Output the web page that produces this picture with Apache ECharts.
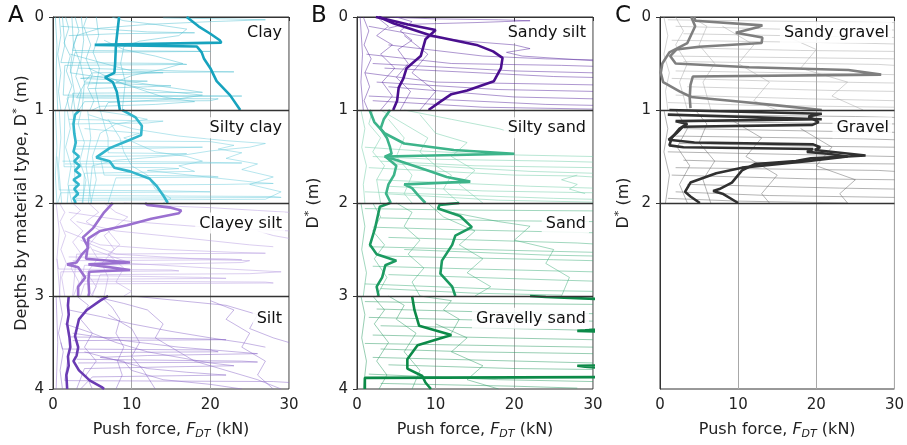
<!DOCTYPE html>
<html><head><meta charset="utf-8">
<script src="https://cdn.jsdelivr.net/npm/echarts@6/dist/echarts.min.js"></script>
<style>html,body{margin:0;padding:0;background:#fff}#c{width:907px;height:445px}</style>
</head><body><div id="c"></div>
<script>
// ---- data: each line is a flat list x(kN), relative depth within material segment (0..1) ----
const xTicks = [0, 10, 20, 30];
const yTicksAB = [0, 1, 2, 3, 4];
const yTicksC = [0, 1, 2];
const panelLetters = ['A', 'B', 'C'];
const materials = ['Clay','Silty clay','Clayey silt','Silt','Sandy silt','Silty sand','Sand','Gravelly sand','Sandy gravel','Gravel'];

// thick (summary) lines
const clayThickA = [8.4,0, 8.2,0.15, 8.0,0.3, 7.9,0.5, 7.8,0.6, 6.6,0.65, 7.6,0.7, 8.1,0.8, 8.3,0.9, 8.5,1];
const clayThickB = [17.0,0, 18.5,0.1, 20,0.18, 21.2,0.25, 21.4,0.276, 5.3,0.30, 18.3,0.318, 18.9,0.38, 19.2,0.45, 20,0.55, 20.8,0.69, 22.5,0.84, 23.8,1];
const siltyClayThickA = [3.4,0, 2.8,0.05, 2.6,0.15, 2.7,0.25, 2.9,0.35, 2.6,0.45, 3.3,0.5, 2.7,0.55, 3.4,0.6, 2.8,0.65, 3.5,0.7, 2.6,0.75, 3.3,0.8, 2.7,0.85, 3.2,0.9, 2.6,0.95, 2.9,1];
const siltyClayThickB = [8.8,0, 10.5,0.08, 11.3,0.17, 11.2,0.27, 9.5,0.33, 7.2,0.41, 5.5,0.51, 7.2,0.55, 7.8,0.62, 9.8,0.66, 12.3,0.74, 13.2,0.82, 14.1,0.93, 14.6,1];
const clayeySiltThickA = [11.7,0, 12.0,0.02, 15.0,0.05, 16.3,0.08, 16.0,0.11, 12.5,0.17, 9.4,0.24, 6.0,0.30, 4.5,0.38, 4.4,0.48, 4.2,0.6, 9.8,0.64, 4.5,0.66, 9.8,0.72, 4.6,0.74, 4.5,0.83, 4.6,0.97, 4.5,1];
const clayeySiltThickB = [7.6,0, 6.5,0.1, 5.1,0.27, 3.8,0.37, 4.5,0.48, 3.7,0.55, 3.0,0.64, 1.8,0.66, 3.2,0.69, 4.1,0.8, 3.2,0.9, 3.2,1];
const siltThickA = [2.0,0, 1.9,0.1, 2.0,0.2, 1.8,0.3, 2.1,0.45, 2.2,0.55, 1.9,0.65, 2.0,0.75, 1.7,0.85, 1.8,1];
const siltThickB = [7.0,0, 6.0,0.05, 4.3,0.15, 3.3,0.25, 2.8,0.43, 3.2,0.55, 3.0,0.64, 2.6,0.7, 3.3,0.8, 4.7,0.91, 6.2,0.98, 6.5,1];
const sandySiltThickA = [2.4,0, 4.0,0.03, 6.5,0.08, 10.0,0.14, 8.7,0.24, 8.1,0.42, 6.3,0.55, 5.9,0.66, 5.3,0.76, 5.1,0.9, 4.6,1];
const sandySiltThickB = [2.8,0, 4.7,0.07, 9.4,0.2, 15.2,0.3, 17.3,0.37, 18.5,0.44, 18.3,0.55, 17.4,0.69, 14.0,0.79, 12.0,0.83, 10.6,0.91, 9.1,1];
const siltySandThickA = [4.2,0, 3.4,0.1, 3.0,0.2, 3.8,0.3, 4.2,0.4, 4.4,0.47, 3.6,0.5, 5.0,0.6, 4.7,0.7, 4.0,0.8, 3.7,0.9, 4.3,1];
const siltySandThickB = [1.6,0, 2.2,0.13, 3.5,0.25, 6.0,0.36, 12.3,0.43, 20.0,0.47, 3.5,0.5, 5.1,0.54, 9.0,0.65, 11.4,0.72, 14.4,0.77, 6.0,0.8, 7.0,0.84, 7.7,0.91, 8.7,1];
const sandThickA = [4.2,0, 2.9,0.04, 2.3,0.27, 1.65,0.45, 2.5,0.55, 5.0,0.62, 3.6,0.67, 3.2,0.8, 2.5,0.9, 2.75,1];
const sandThickB = [13.0,0, 10.5,0.02, 10.3,0.06, 13.1,0.14, 14.6,0.26, 12.5,0.35, 12.1,0.45, 10.8,0.62, 10.6,0.76, 12.1,0.9, 12.5,1];
const gravellySandThickA = [7.0,0, 7.3,0.15, 7.9,0.32, 12.0,0.42, 7.7,0.53, 6.4,0.68, 6.4,0.78, 8.3,0.86, 8.7,0.93, 9.4,1];
const gravellySandThickB = [22,0, 24,0.01, 36,0.05, 40,0.3, 29,0.37, 28,0.375, 36,0.4, 40,0.6, 36,0.74, 28,0.75, 29,0.76, 36,0.8, 40,0.87, 1.0,0.88, 1.0,1];
const sandyGravelThickA = [4.4,0, 4.5,0.04, 13.1,0.09, 12.5,0.11, 9.7,0.17, 13.1,0.22, 13.0,0.28, 5,0.32, 2.1,0.35, 1.3,0.42, 2.0,0.5, 11.4,0.54, 24.1,0.57, 28.3,0.62, 4.2,0.64, 3.9,0.73, 3.8,0.87, 3.9,0.98];
const sandyGravelThickB = [4.0,0, 4.5,0.1, 3.5,0.28, 1.2,0.38, 0.3,0.5, 0.1,0.6, 0.4,0.7, 2.5,0.8, 4.0,0.86, 9,0.9, 15,0.95, 20.7,1.0];
const gravelThickA = [1.2,0, 1.0,0.02, 20.7,0.04, 19.0,0.07, 20.3,0.13, 19.5,0.16, 2.9,0.18, 2.1,0.25, 1.1,0.32, 4.4,0.35, 19.6,0.37, 20.5,0.40, 19.8,0.43, 26.3,0.49, 19.3,0.52, 17.4,0.55, 12.2,0.58, 10.5,0.65, 9.2,0.78, 7.6,0.85, 6.8,0.87, 8.0,0.9, 10.0,1];
const gravelThickB = [1.0,0.05, 20.7,0.1, 2.0,0.12, 3.5,0.15, 2.5,0.2, 1.5,0.3, 1.2,0.38, 3,0.4, 19.6,0.42, 18.8,0.45, 21.5,0.47, 24,0.5, 18.8,0.55, 10.5,0.62, 7.2,0.68, 3.9,0.78, 3.2,0.88, 3.9,0.93, 5.1,1];

// thin (individual test) lines
const clayThin = [
 [0.3,0, 0.5,0.3, 0.4,0.6, 0.6,1],
 [0.8,0, 1.0,0.2, 0.6,0.4, 1.0,0.6, 0.7,0.8, 1.0,1],
 [1.6,0, 2.0,0.12, 1.4,0.28, 2.2,0.42, 1.7,0.58, 2.4,0.74, 1.8,0.88, 2.1,1],
 [2.4,0, 2.6,0.3, 2.2,0.55, 2.7,0.8, 2.3,1],
 [2.8,0, 3.3,0.15, 2.6,0.3, 3.4,0.48, 2.9,0.64, 3.6,0.8, 3.1,1],
 [4.3,0, 3.9,0.1, 4.8,0.3, 4.2,0.45, 5.0,0.62, 4.4,0.76, 5.2,0.9, 4.7,1],
 [5.5,0, 5.8,0.2, 5.1,0.38, 5.9,0.55, 5.4,0.78, 6.0,1],
 [3.6,0, 3.9,0.25, 3.5,0.5, 4.0,0.7, 3.7,1],
 [7.5,0, 9,0.04, 13,0.08, 17,0.13, 16,0.2, 11,0.26, 9,0.32, 8.6,0.5, 9.2,0.7, 8.8,1],
 [14,0.01, 22,0.02, 27,0.03, 20,0.05, 12,0.08, 6,0.12, 3,0.2, 2.5,0.36, 20,0.37, 2.8,0.38, 2.2,0.6, 19,0.81, 2.5,0.82, 2.8,1],
 [1.2,0, 1.5,0.3, 1.0,0.49, 16,0.5, 17,0.51, 1.5,0.52, 1.3,0.84, 24,0.85, 2,0.86, 1.5,1],
 [6.5,0.25, 9,0.35, 13,0.42, 16.5,0.5, 14,0.56, 10,0.63, 8,0.7, 12,0.78, 19,0.84, 16,0.88, 7,0.92, 6.5,1],
 [2.2,0.4, 10,0.58, 14,0.6, 8,0.62, 3.5,0.66, 12,0.69, 4,0.72, 3,0.87, 21,0.88, 20,0.9, 4,0.91, 3.3,1],
 [4.5,0.55, 9,0.72, 14,0.86, 18,0.91, 13,0.94, 6,0.96, 5,1],
 [1.0,0.1, 12,0.16, 18,0.17, 8,0.18, 2,0.2],
 [3.2,0.55, 16,0.58, 23,0.59, 5,0.6, 4,0.7, 15,0.74, 12,0.75, 4.5,0.77]
];
const siltyClayThin = [
 [0.3,0, 0.5,0.4, 0.3,0.7, 0.5,1],
 [0.8,0, 1,0.3, 0.7,0.6, 1.1,1],
 [1.8,0, 2.2,0.2, 1.6,0.4, 2.3,0.6, 1.9,0.8, 2.4,1],
 [3.6,0, 3.2,0.15, 4.0,0.35, 3.4,0.55, 4.2,0.75, 3.7,1],
 [4.4,0, 4.8,0.3, 4.2,0.6, 4.9,1],
 [5,0, 9,0.05, 12,0.1, 8,0.15, 6,0.25, 5,0.5, 5.5,0.75, 4.8,1],
 [4.5,0.05, 10,0.2, 16,0.28, 22,0.33, 27,0.36, 25,0.4, 20,0.44, 17,0.48, 8,0.54, 5,0.6, 4.5,1],
 [2.5,0, 2.8,0.25, 2.7,0.39, 19,0.4, 13,0.41, 2.6,0.42, 2.9,0.92, 28,0.93, 29,0.94, 3,0.95, 2.7,1],
 [6,0, 7,0.3, 7,0.46, 17,0.47, 14,0.49, 6,0.5, 6.5,0.7, 20,0.71, 21,0.72, 8,0.73, 7,1],
 [1.5,0, 1.4,0.61, 14,0.62, 16,0.63, 12,0.65, 26,0.78, 28,0.79, 22,0.8, 2,0.81, 1.8,1],
 [7,0.1, 8.5,0.3, 9,0.45, 10,0.6, 12,0.7, 13,0.85, 15,0.95, 14,1],
 [3,0.33, 20,0.34, 23,0.38, 21,0.42, 24,0.46, 22,0.52, 26,0.58, 24,0.64, 28,0.72, 25,0.8, 29,0.88, 27,0.96, 3,0.97, 2.5,1],
 [4,0.2, 11,0.25, 9,0.3, 13,0.45, 17,0.5, 19,0.55, 16,0.6, 18,0.66, 4,0.68, 3.8,1],
 [0.5,0.5, 0.8,0.86, 15,0.87, 20,0.88, 1,0.89, 0.6,1],
 [2,0.1, 14,0.12, 12,0.14, 2.2,0.15],
 [1.2,0.55, 18,0.56, 24,0.57, 1.5,0.58]
];
const clayeySiltThin = [
 [0.4,0, 0.8,0.3, 0.5,0.6, 0.9,1],
 [0.8,0, 1.5,0.1, 0.9,0.2, 1.6,0.35, 1.0,0.5, 1.7,0.65, 1.1,0.8, 1.5,1],
 [2.5,0, 3.5,0.08, 2.2,0.18, 3.8,0.3, 2.5,0.42, 3.6,0.55, 2.3,0.7, 3.3,0.85, 2.6,1],
 [4.5,0, 5.8,0.1, 4.2,0.2, 6,0.3, 4.6,0.45, 5.7,0.6, 4.3,0.75, 5.5,0.9, 4.8,1],
 [6.5,0, 8,0.1, 9.5,0.15, 8,0.25, 6.5,0.35, 7.8,0.5, 6.2,0.65, 7,0.8, 6.5,1],
 [9,0, 14,0.03, 20,0.05, 26,0.08, 30,0.1],
 [2,0.1, 10,0.2, 18,0.25, 25,0.28, 30,0.3],
 [3,0.2, 8,0.3, 15,0.36, 25,0.45, 28,0.47],
 [1.5,0.3, 6,0.45, 14,0.5, 23,0.53, 27,0.54, 3,0.55, 2.5,1],
 [3.5,0.4, 8,0.55, 18,0.6, 25,0.62, 24,0.64, 12,0.66, 4,0.67, 3.6,0.84, 27,0.85, 28,0.86, 4,0.87, 3.5,1],
 [5,0.5, 10,0.65, 20,0.7, 29,0.74, 25,0.76, 6,0.77, 5,1],
 [0.5,0.6, 0.7,0.71, 15,0.72, 16,0.73, 1,0.74, 0.8,1],
 [7,0.3, 8.5,0.45, 7,0.55, 9,0.7, 8,0.85, 10,0.95, 9,1],
 [26,0.3, 28,0.35, 30,0.38],
 [2,0.58, 22,0.6, 24,0.61, 2.5,0.62],
 [4,0.78, 19,0.8, 22,0.81, 4.5,0.82]
];
const siltThin = [
 [0.4,0, 0.6,0.5, 0.4,1],
 [0.8,0, 1.2,0.2, 0.7,0.4, 1.3,0.6, 0.9,0.8, 1.2,1],
 [3,0, 4.5,0.1, 3.5,0.25, 5,0.4, 4,0.55, 5.5,0.7, 4.2,0.85, 5,1],
 [6,0, 7.5,0.12, 8.5,0.25, 8,0.4, 9,0.55, 8.2,0.7, 8.8,0.85, 8,1],
 [5,0, 9,0.08, 12,0.15, 14,0.3, 13,0.45, 16,0.6, 18,0.7, 22,0.8, 26,0.9, 29,1],
 [10,0, 16,0.05, 22,0.1, 26,0.2, 25,0.35, 28,0.45, 30,0.5],
 [2,0.15, 6,0.22, 10,0.3, 15,0.38, 20,0.45, 24,0.5, 27,0.55],
 [1.5,0.3, 5,0.4, 8,0.5, 12,0.6, 20,0.72, 23,0.75, 16,0.76, 4,0.78, 3,1],
 [2.5,0.4, 9,0.48, 16,0.55, 26,0.62, 12,0.64, 6,0.66, 9,0.7, 10,0.8, 14,0.9, 20,0.95, 24,1],
 [1,0.5, 1.2,0.57, 20,0.58, 21,0.6, 2,0.61, 1.5,0.91, 28,0.92, 30,0.93],
 [4,0.6, 12,0.78, 17,0.82, 22,0.85, 5,0.87, 3.5,1],
 [7,0.2, 10,0.35, 11,0.5, 10,0.65, 11.5,0.8, 13,1],
 [20,0.05, 23,0.15, 22,0.25, 25,0.4, 24,0.55, 27,0.7, 26,0.85, 28,1],
 [2.2,0.44, 18,0.46, 22,0.47, 2.5,0.48],
 [3,0.68, 24,0.7, 26,0.71, 3.2,0.72]
];
const sandySiltThin = [
 [0.4,0, 0.7,0.4, 0.5,0.7, 0.8,1],
 [0.8,0, 1.5,0.15, 0.9,0.3, 1.8,0.45, 1.0,0.6, 1.6,0.75, 0.9,0.9, 1.4,1],
 [2.5,0, 4,0.1, 2.5,0.2, 4.5,0.3, 3,0.4, 4.8,0.55, 3.2,0.7, 4.5,0.85, 3,1],
 [5,0, 7,0.05, 5.5,0.15, 7,0.25, 5.2,0.35, 6.5,0.5, 5,0.65, 6.8,0.8, 5.5,1],
 [3,0, 10,0.02, 18,0.03, 22,0.04, 15,0.06, 6,0.08, 4,0.12],
 [1.5,0.1, 8,0.2, 14,0.26, 20,0.3, 22,0.34, 19,0.38, 21,0.42, 28,0.46, 30,0.47],
 [4,0.3, 10,0.36, 16,0.42, 24,0.45, 30,0.46],
 [1.2,0.4, 12,0.5, 26,0.52, 30,0.53],
 [2,0.5, 20,0.58, 30,0.6],
 [3.5,0.55, 25,0.64, 30,0.65],
 [1,0.6, 10,0.7, 30,0.73],
 [2.5,0.7, 18,0.78, 30,0.8],
 [4,0.75, 20,0.86, 30,0.88],
 [1.5,0.85, 24,0.94, 30,0.95],
 [6,0.2, 9,0.4, 7,0.6, 10,0.8, 8,1],
 [2,0.9, 16,0.97, 30,0.99]
];
const siltySandThin = [
 [0.5,0, 1,0.2, 0.6,0.4, 1.2,0.6, 0.8,0.8, 1,1],
 [2,0, 1.5,0.15, 3,0.3, 2,0.45, 3.5,0.6, 2.5,0.75, 3,1],
 [3,0, 5,0.1, 7,0.2, 9,0.3, 8,0.45, 10,0.6, 12,0.7, 11,0.85, 13,1],
 [6,0, 9,0.05, 12,0.1, 15,0.15, 18,0.2, 20,0.25],
 [4,0.1, 6,0.3, 5,0.5, 7,0.7, 6,0.9, 7,1],
 [1,0.4, 8,0.44, 18,0.48, 30,0.5],
 [2,0.5, 10,0.53, 25,0.55, 30,0.56],
 [3,0.55, 15,0.6, 30,0.62],
 [1.5,0.62, 20,0.7, 28,0.71, 30,0.72],
 [2.5,0.75, 22,0.82, 30,0.84],
 [4,0.82, 16,0.87, 30,0.89],
 [1,0.88, 25,0.95, 30,0.96],
 [8,0.05, 10,0.25, 14,0.35, 12,0.5, 15,0.65, 13,0.8, 16,1],
 [28,0.7, 26,0.75, 28,0.8, 27,0.85, 29,0.9],
 [5,0.58, 22,0.66, 30,0.68],
 [3.5,0.9, 18,0.97, 30,0.99]
];
const sandThin = [
 [0.5,0, 1,0.25, 0.6,0.5, 1.2,0.75, 0.8,1],
 [2,0, 3,0.15, 2,0.3, 3.5,0.45, 2.2,0.6, 3.8,0.8, 2.5,1],
 [5,0, 7,0.1, 6,0.25, 8,0.4, 6.5,0.55, 8.5,0.7, 7,0.85, 8,1],
 [9,0, 11,0.15, 15,0.3, 13,0.45, 16,0.6, 14,0.75, 17,0.9, 15,1],
 [1,0.06, 12,0.075, 30,0.085],
 [3,0.16, 18,0.19, 30,0.2],
 [2,0.26, 14,0.29, 25,0.31, 30,0.32],
 [4,0.37, 20,0.41, 28,0.43, 30,0.44],
 [1.5,0.47, 20,0.51, 30,0.53],
 [3,0.57, 25,0.61, 30,0.62],
 [2,0.68, 15,0.71, 30,0.74],
 [4,0.77, 26,0.83, 30,0.84],
 [1,0.87, 22,0.94, 30,0.95],
 [12,0.1, 18,0.2, 22,0.25, 20,0.4, 25,0.5, 24,0.65, 27,0.8, 26,1],
 [6,0.5, 24,0.56, 30,0.57],
 [3,0.92, 15,0.97, 26,0.99]
];
const gravellySandThin = [
 [0.5,0, 1,0.2, 0.6,0.45, 1.2,0.7, 0.8,1],
 [2,0, 3.5,0.15, 2.2,0.3, 4,0.5, 2.5,0.7, 3.8,0.85, 2.8,1],
 [4,0, 6,0.1, 5,0.25, 7.5,0.4, 6,0.6, 8,0.8, 7,1],
 [8,0, 12,0.05, 11,0.15, 13,0.25, 12,0.4],
 [1,0.06, 15,0.08, 30,0.09],
 [2.5,0.14, 20,0.18, 30,0.19],
 [1.5,0.23, 16,0.26, 30,0.27],
 [3,0.32, 25,0.36, 30,0.37],
 [2,0.42, 18,0.45, 30,0.47],
 [1,0.51, 22,0.54, 30,0.55],
 [3,0.57, 14,0.6, 30,0.62],
 [2,0.66, 25,0.71, 30,0.72],
 [4,0.74, 20,0.78, 30,0.79],
 [1.5,0.84, 18,0.9, 30,0.92],
 [10,0.3, 14,0.45, 12,0.6, 16,0.75, 14,0.9, 18,1],
 [3,0.94, 20,0.97, 28,0.99]
];
const sandyGravelThin = [
 [0.5,0, 1,0.2, 0.5,0.4, 1.2,0.6, 0.7,0.8, 1,1],
 [2,0, 3,0.15, 2,0.3, 3.5,0.5, 2.5,0.7, 3.5,1],
 [4,0, 6,0.1, 5,0.3, 7,0.5, 5.5,0.7, 6.5,1],
 [1,0.03, 20,0.05, 30,0.06],
 [2,0.1, 15,0.13, 30,0.14],
 [3,0.18, 22,0.21, 30,0.22],
 [1.5,0.25, 25,0.28, 30,0.29],
 [2.5,0.33, 18,0.36, 30,0.37],
 [1,0.42, 20,0.44, 30,0.45],
 [3,0.48, 28,0.51, 30,0.52],
 [2,0.58, 24,0.61, 30,0.62],
 [1.5,0.66, 15,0.69, 30,0.71],
 [3.5,0.75, 22,0.79, 30,0.8],
 [2,0.84, 19,0.88, 30,0.9],
 [8,0.1, 12,0.3, 10,0.5, 14,0.7, 12,0.9, 15,1],
 [16,0.2, 20,0.35, 18,0.55, 24,0.7, 22,0.85, 26,1],
 [1,0.92, 12,0.95, 30,0.97]
];
const gravelThin = [
 [0.5,0, 1,0.2, 0.5,0.45, 1.2,0.7, 0.7,1],
 [2,0, 3.5,0.2, 2.2,0.4, 3.8,0.6, 2.5,0.8, 3.5,1],
 [4.5,0, 6,0.15, 5,0.35, 7,0.55, 5.5,0.75, 6.5,1],
 [1,0.05, 25,0.07, 30,0.08],
 [2,0.12, 18,0.14, 30,0.15],
 [3,0.2, 22,0.23, 30,0.24],
 [1.5,0.28, 26,0.31, 30,0.32],
 [2.5,0.36, 20,0.39, 30,0.4],
 [1,0.45, 24,0.49, 30,0.5],
 [3,0.54, 16,0.57, 30,0.58],
 [2,0.62, 28,0.65, 30,0.66],
 [1.5,0.7, 19,0.74, 30,0.75],
 [3.5,0.8, 23,0.84, 30,0.85],
 [2,0.88, 14,0.92, 30,0.94],
 [9,0.1, 13,0.3, 11,0.5, 15,0.7, 13,0.9, 14,1],
 [18,0.2, 22,0.4, 20,0.6, 25,0.75, 23,0.9, 24,1],
 [1,0.95, 10,0.98, 24,1]
];

// ---- segment table (panel, depth offset, styles) ----
const segments = [
 {p:0, off:0, name:materials[0], thin:clayThin, thick:[clayThickA, clayThickB], tc:'#52bfd3', kc:'#17a3be'},
 {p:0, off:1, name:materials[1], thin:siltyClayThin, thick:[siltyClayThickA, siltyClayThickB], tc:'#6ccbdc', kc:'#33b6cc'},
 {p:0, off:2, name:materials[2], thin:clayeySiltThin, thick:[clayeySiltThickA, clayeySiltThickB], tc:'#b59ce0', kc:'#9a70d0'},
 {p:0, off:3, name:materials[3], thin:siltThin, thick:[siltThickA, siltThickB], tc:'#8a69c8', kc:'#6a3bb3'},
 {p:1, off:0, name:materials[4], thin:sandySiltThin, thick:[sandySiltThickA, sandySiltThickB], tc:'#5a2aa0', kc:'#4a0f8e'},
 {p:1, off:1, name:materials[5], thin:siltySandThin, thick:[siltySandThickA, siltySandThickB], tc:'#6fcca6', kc:'#3db48a'},
 {p:1, off:2, name:materials[6], thin:sandThin, thick:[sandThickA, sandThickB], tc:'#3fae7a', kc:'#1b9a60'},
 {p:1, off:3, name:materials[7], thin:gravellySandThin, thick:[gravellySandThickA, gravellySandThickB], tc:'#2c9b64', kc:'#0c8a48'},
 {p:2, off:0, name:materials[8], thin:sandyGravelThin, thick:[sandyGravelThickA, sandyGravelThickB], tc:'#a8a8a8', kc:'#7f7f7f'},
 {p:2, off:1, name:materials[9], thin:gravelThin, thick:[gravelThickA, gravelThickB], tc:'#666666', kc:'#303030'}
];

function pts(flat, off){ const r=[]; for(let i=0;i<flat.length;i+=2) r.push([flat[i], flat[i+1]+off]); return r; }

const FONT = 'DejaVu Sans';
const lefts = [53, 357, 660];
const W = 236, TOP = 17, H = 381;

const series = [];
segments.forEach(s => {
  s.thin.forEach(l => series.push({type:'line', xAxisIndex:s.p, yAxisIndex:s.p, data:pts(l, s.off), showSymbol:false, symbol:'none', silent:true, clip:true, z:2,
    lineStyle:{color:s.tc, width:0.7, opacity:0.7}}));
});
segments.forEach(s => {
  s.thick.forEach(l => series.push({type:'line', xAxisIndex:s.p, yAxisIndex:s.p, data:pts(l, s.off), showSymbol:false, symbol:'none', silent:true, clip:true, z:3,
    lineStyle:{color:s.kc, width:2.6}}));
});
[[1,2,3],[1,2,3],[1,2]].forEach((ys, p) => {
  series.push({type:'line', xAxisIndex:p, yAxisIndex:p, data:[], silent:true, z:6,
    markLine:{silent:true, symbol:'none', label:{show:false}, animation:false,
      lineStyle:{color:'#333', width:1.3, type:'solid'}, data: ys.map(v => ({yAxis:v}))}});
});

const rich = {
  a:{fontSize:16, fontFamily:FONT, color:'#222'},
  i:{fontSize:16, fontFamily:FONT, fontStyle:'italic', color:'#222'},
  s:{fontSize:11, fontFamily:FONT, fontStyle:'italic', color:'#222', padding:[9,0,0,0]},
  u:{fontSize:11, fontFamily:FONT, color:'#222', padding:[0,0,9,0]}
};
const grid = lefts.map(l => ({left:l, top:TOP, width:W, height:H, show:true, borderColor:'#333', borderWidth:1, backgroundColor:'rgba(0,0,0,0)'}));
const xAxis = lefts.map((l,p) => ({gridIndex:p, type:'value', min:xTicks[0], max:xTicks[xTicks.length-1], interval:10,
  axisLine:{show:true, lineStyle:{color:'#333'}}, axisTick:{show:true, length:4, lineStyle:{color:'#333'}},
  axisLabel:{fontSize:15, color:'#222', fontFamily:FONT, margin:9},
  splitLine:{show:true, lineStyle:{color:'#a8a8a8', width:1}},
  name:'{a|Push force, }{i|F}{s|DT}{a| (kN)}', nameLocation:'middle', nameGap:31, nameTextStyle:{rich:rich}}));
const yNames = ['{a|Depths by material type, D}{u|*}{a| (m)}', '{a|D}{u|*}{a| (m)}', '{a|D}{u|*}{a| (m)}'];
const yGaps = [21, 33, 26];
const yAxis = lefts.map((l,p) => ({gridIndex:p, type:'value', inverse:true, min:0, max:4, interval:1,
  axisLine:{show:true, lineStyle:{color:'#333'}},
  axisTick:p===2 ? {show:true, length:4, lineStyle:{color:'#333'}, customValues:yTicksC} : {show:true, length:4, lineStyle:{color:'#333'}},
  axisLabel:p===2 ? {fontSize:15, color:'#222', fontFamily:FONT, margin:9, customValues:yTicksC} : {fontSize:15, color:'#222', fontFamily:FONT, margin:9},
  splitLine:{show:false},
  name:yNames[p], nameLocation:'middle', nameGap:yGaps[p], nameRotate:90, nameTextStyle:{rich:rich}}));

const graphic = [];
panelLetters.forEach((t,p) => graphic.push({type:'text', left:[8,311,615][p], top:5, z:100,
  style:{text:t, fontSize:23, fontFamily:FONT, fill:'#111'}}));
segments.forEach(s => {
  graphic.push({type:'text', z:100, x:lefts[s.p]+W-4, y:TOP + s.off*H/4 + 5,
    style:{text:s.name, fontSize:16, fontFamily:FONT, fill:'#111', align:'right', verticalAlign:'top',
      backgroundColor:'rgba(255,255,255,0.85)', padding:[3,3,2,4]}});
});

const chart = echarts.init(document.getElementById('c'), null, {renderer:'canvas'});
chart.setOption({animation:false, backgroundColor:'#fff', grid, xAxis, yAxis, series, graphic});
</script></body></html>
